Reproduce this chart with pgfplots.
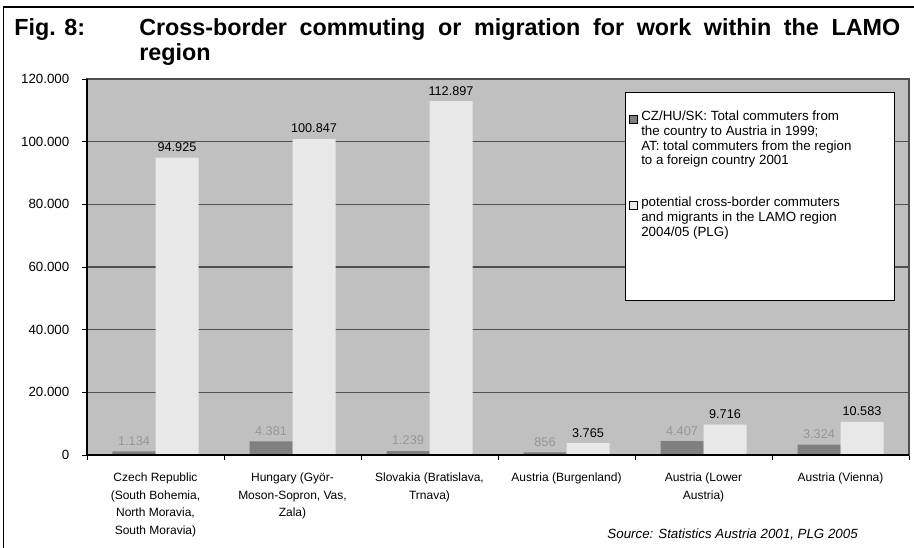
\documentclass[border=0pt]{standalone}
\usepackage{fontspec}
\setmainfont{Liberation Sans}
\usepackage{pgfplots}
\pgfplotsset{compat=1.18}
\definecolor{plotbg}{RGB}{192,192,192}
\definecolor{bardark}{RGB}{128,128,128}
\definecolor{barlight}{RGB}{232,232,232}
\definecolor{gridc}{RGB}{80,80,80}
\definecolor{lblgray}{RGB}{150,150,150}

\begin{document}
\begin{tikzpicture}
\useasboundingbox (0pt,0pt) rectangle (685.5pt,411pt);
\begin{axis}[
  at={(65.25pt,69.75pt)}, anchor=south west,
  scale only axis, width=616.5pt, height=282pt,
  ybar=0pt, bar width=32.25pt,
  xmin=-0.5, xmax=5.5, ymin=0, ymax=120000,
  xtick={0,...,5},
  xticklabels={
    {Czech Republic\\(South Bohemia,\\North Moravia,\\South Moravia)},
    {Hungary (Györ-\\Moson-Sopron, Vas,\\Zala)},
    {Slovakia (Bratislava,\\Trnava)},
    {Austria (Burgenland)},
    {Austria (Lower\\Austria)},
    {Austria (Vienna)}},
  minor xtick={-0.5,0.5,1.5,2.5,3.5,4.5,5.5},
  ytick={0,20000,40000,60000,80000,100000,120000},
  xtick pos=bottom, ytick pos=left,
  scaled y ticks=false,
  /pgf/number format/assume math mode=true,
  yticklabel style={font=\fontsize{10}{12}\selectfont, xshift=-6pt,
    /pgf/number format/fixed, /pgf/number format/1000 sep={.}},
  xticklabel style={align=center, font=\fontsize{9}{13.3}\selectfont, yshift=-6pt},
  ymajorgrids, grid style={gridc, line width=0.8pt},
  tick align=outside, major tick length=3.75pt, minor tick length=3.75pt,
  tick style={black, line width=0.6pt},
  major x tick style={draw=none},
  axis line style={gridc, line width=0.8pt},
  axis background/.style={fill=plotbg},
  nodes near coords={\pgfmathprintnumber[fixed,precision=0,1000 sep={.}]{\pgfplotspointmeta}},
  every node near coord/.append style={font=\fontsize{9.5}{11}\selectfont, anchor=south, yshift=1pt},
  clip=false,
]
\addplot[fill=bardark, draw=none, every node near coord/.append style={text=lblgray}]
  coordinates {(0,1134) (1,4381) (2,1239) (3,856) (4,4407) (5,3324)};
\addplot[fill=barlight, draw=none]
  coordinates {(0,94925) (1,100847) (2,112897) (3,3765) (4,9716) (5,10583)};
\draw[black, line width=0.8pt] (rel axis cs:0,1) -- (rel axis cs:0,0) -- (rel axis cs:1,0);
\end{axis}

\begin{scope}[x=0.75pt,y=0.75pt]
% outer frame (left and top only)
\draw[line width=1.1pt] (3.5,0) -- (3.5,541) -- (914,541);
% title
\node[anchor=base west, inner sep=0, font=\fontsize{17.5}{21}\selectfont\bfseries] at (14,512) {Fig. 8:};
\node[anchor=base west, inner sep=0, font=\fontsize{17.5}{21}\selectfont\bfseries] at (139,512)
  {\makebox[570.75pt][s]{Cross-border commuting or migration for work within the LAMO}};
\node[anchor=base west, inner sep=0, font=\fontsize{17.5}{21}\selectfont\bfseries] at (139,487) {region};
% legend
\draw[black, fill=white, line width=0.7pt] (625,456) rectangle (894,248);
\draw[black, fill=bardark, line width=0.4pt] (629,425) rectangle (637,433);
\draw[black, fill=barlight, line width=0.4pt] (629,339) rectangle (637,347);
\node[anchor=north west, inner sep=0, align=left, font=\fontsize{10}{11}\selectfont] at (641,437)
  {CZ/HU/SK: Total commuters from\\the country to Austria in 1999;\\AT: total commuters from the region\\to a foreign country 2001};
\node[anchor=north west, inner sep=0, align=left, font=\fontsize{10}{11}\selectfont] at (641,351)
  {potential cross-border commuters\\and migrants in the LAMO region\\2004/05 (PLG)};
% source
\node[anchor=base east, inner sep=0, font=\fontsize{10}{12}\selectfont\itshape] at (858,9)
  {Source: Statistics Austria 2001, PLG 2005};
\end{scope}
\end{tikzpicture}
\end{document}
